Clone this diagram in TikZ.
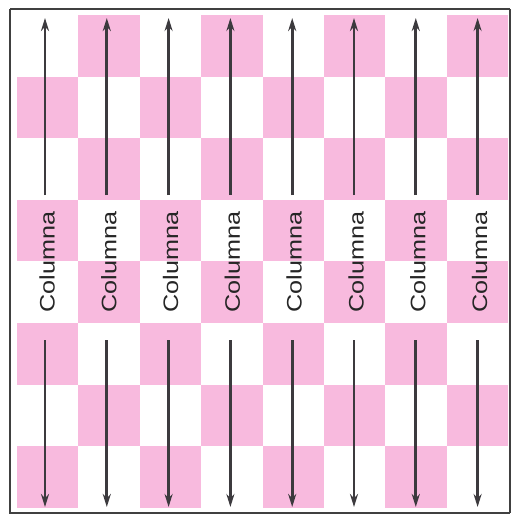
\documentclass[tikz,border=0pt]{standalone}
\usepackage{fontspec}
\setmainfont{Liberation Sans}
\usetikzlibrary{arrows.meta}
\definecolor{boardpink}{RGB}{248,186,222}
\definecolor{arrowgray}{RGB}{60,58,62}
\tikzset{
  sq/.style={fill=boardpink, draw=none},
  colarrow/.style={draw=arrowgray, line width=2.8pt, -{Stealth[length=13pt,width=8pt]}},
  collabel/.style={rotate=90, inner sep=0pt, font=\fontsize{21}{21}\selectfont, text=black!85},
  frame/.style={draw=black!75, line width=1.4pt}
}
\begin{document}
\begin{tikzpicture}[x=1pt,y=-1pt]
\useasboundingbox (0,0) rectangle (511,515);
\fill[white] (0,0) rectangle (511,515);
% board
\foreach \r in {0,...,7}{
  \foreach \c in {0,...,7}{
    \pgfmathparse{int(mod(\r+\c,2))}
    \ifnum\pgfmathresult=1
      \fill[sq] ({17+61.4*\c},{15+61.6*\r}) rectangle ({17+61.4*(\c+1)},{15+61.6*(\r+1)});
    \fi
  }
}
% frame
\draw[frame] (10,9) -- (510,9);
\draw[frame] (10,9) -- (10,513) -- (510,513);
\draw[frame] (510,9) -- (510,513);
% arrows and labels
\foreach \i in {0,...,7}{
  \coordinate (top\i) at ({45+61.8*\i},18);
  \coordinate (ua\i) at ({45+61.8*\i},195);
  \coordinate (la\i) at ({45+61.8*\i},340);
  \coordinate (bot\i) at ({45+61.8*\i},507);
  \node[collabel] (lab\i) at ({47+61.8*\i},262) {\scalebox{1.2}[1]{Columna}};
  \draw[colarrow] (ua\i) -- (top\i);
  \draw[colarrow] (la\i) -- (bot\i);
}
\end{tikzpicture}
\end{document}
